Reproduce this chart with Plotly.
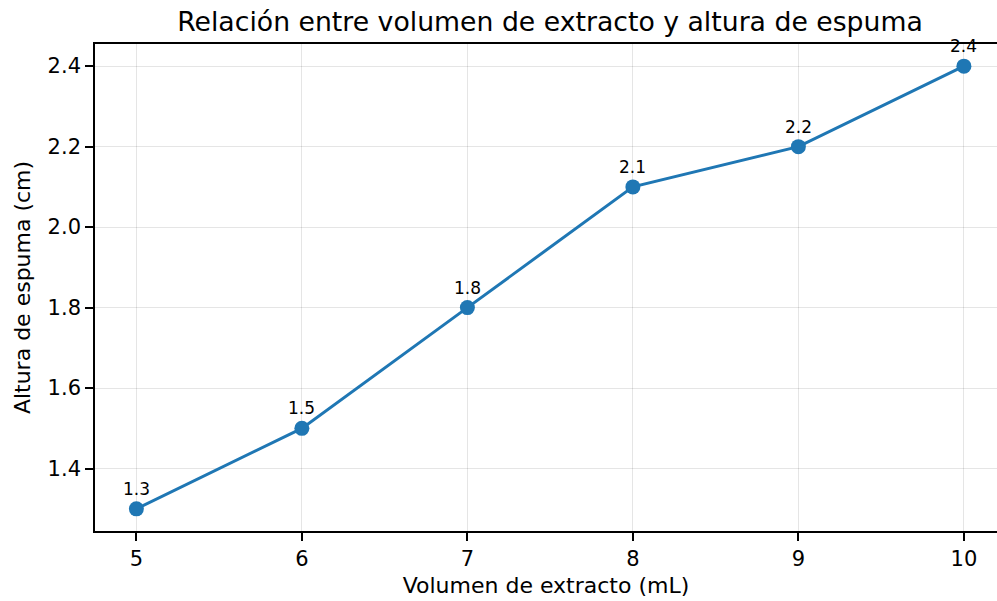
import plotly.graph_objects as go

volumen = [5, 6, 7, 8, 9, 10]
altura = [1.3, 1.5, 1.8, 2.1, 2.2, 2.4]
etiquetas = ["1.3", "1.5", "1.8", "2.1", "2.2", "2.4"]
xticks = [5, 6, 7, 8, 9, 10]
yticks = [1.4, 1.6, 1.8, 2.0, 2.2, 2.4]
yticklabels = ["1.4", "1.6", "1.8", "2.0", "2.2", "2.4"]

FONT = "DejaVu Sans"
color = "#1f77b4"

fig = go.Figure()
fig.add_trace(go.Scatter(
    x=volumen, y=altura, mode="lines+markers",
    line=dict(color=color, width=3),
    marker=dict(color=color, size=15),
    cliponaxis=False, showlegend=False,
))
for xv, yv, t in zip(volumen, altura, etiquetas):
    fig.add_annotation(x=xv, y=yv, text=t, showarrow=False, yshift=20,
                       font=dict(family=FONT, size=17, color="black"))

axis_common = dict(
    showline=True, linecolor="black", linewidth=1.6,
    ticks="outside", ticklen=8, tickwidth=1.6, tickcolor="black",
    showgrid=True, gridcolor="rgba(0,0,0,0.1)", gridwidth=1,
    zeroline=False, automargin=False,
    tickfont=dict(family=FONT, size=21, color="black"),
)

fig.update_layout(
    width=997, height=601,
    margin=dict(l=95, r=0, t=44, b=70),
    plot_bgcolor="white", paper_bgcolor="white",
    title=dict(text="Relación entre volumen de extracto y altura de espuma",
               x=(95 + 1005) / 2 / 997, xanchor="center", y=1 - 22 / 601, yanchor="middle",
               font=dict(family=FONT, size=26.7, color="black")),
    xaxis=dict(range=[4.75, 10.2], tickvals=xticks, mirror=True,
               title=dict(text="Volumen de extracto (mL)", standoff=8,
                          font=dict(family=FONT, size=22, color="black")),
               **axis_common),
    yaxis=dict(range=[1.245, 2.455], tickvals=yticks, ticktext=yticklabels,
               title=dict(text="Altura de espuma (cm)", standoff=11,
                          font=dict(family=FONT, size=22, color="black")),
               **axis_common),
)

fig.write_html("out.html", config={"displayModeBar": False},
               post_script="document.body.style.margin='0';document.body.style.overflow='hidden';")
